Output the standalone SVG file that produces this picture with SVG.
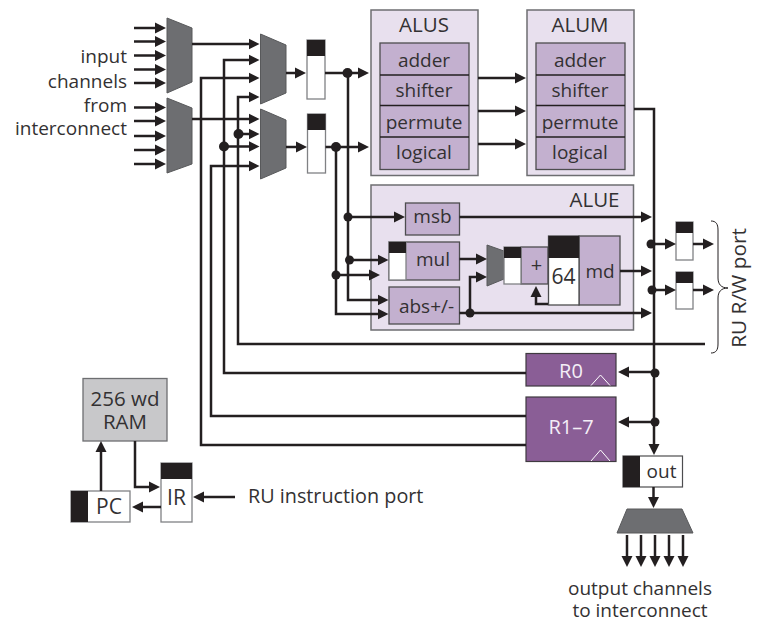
<svg xmlns="http://www.w3.org/2000/svg" width="759" height="622" viewBox="0 0 759 622">
<defs>
<marker id="ah" markerUnits="userSpaceOnUse" markerWidth="13" markerHeight="12" refX="7" refY="6" orient="auto"><path d="M0,0.5 L11,6 L0,11.5 Z" fill="#231f20"/></marker>
</defs>
<style>
text{font-family:"Open Sans","Noto Sans","Liberation Sans",sans-serif;font-size:19px;fill:#333132;text-anchor:middle}
.l{text-anchor:end}
.s{text-anchor:start;font-size:19.800px}
.h{font-size:20.500px}
.w{fill:#f4eef6;font-size:20px}
.mux{fill:#6d6e71;stroke:#58595b;stroke-width:1}
.alu{fill:#e8e0ee;stroke:#6d6e71;stroke-width:1.5}
.fu{fill:#c3b0cf;stroke:#4d4d4f;stroke-width:1.3}
.reg{fill:#fff;stroke:#808184;stroke-width:1.3}
.blk{fill:#231f20}
.pur{fill:#8a5e96;stroke:#3f3a40;stroke-width:1.2}
.clk{fill:none;stroke:#fff;stroke-width:1}
.c{fill:none;stroke:#231f20;stroke-width:2.5}
.a{marker-end:url(#ah)}
.d{fill:#231f20}
</style>
<g id="labels">
<text class="l"><tspan x="127" y="63">input</tspan><tspan x="127" y="88">channels</tspan><tspan x="127" y="112">from</tspan><tspan x="127" y="135">interconnect</tspan></text>
<text><tspan x="640" y="595">output channels</tspan><tspan x="640" y="617">to interconnect</tspan></text>
<text class="s" x="248" y="503">RU instruction port</text>
<text transform="translate(746,288) rotate(-90)" style="font-size:20.800px">RU R/W port</text>
</g>
<g id="mux-in-1"><polygon class="mux" points="167,18 192,28 192,82 167,93"/></g>
<g id="mux-in-2"><polygon class="mux" points="167,98 192,108 192,164 167,173"/></g>
<g id="mux-a"><polygon class="mux" points="260.500,34 286,45 286,93 260.500,104"/></g>
<g id="mux-b"><polygon class="mux" points="260.500,109 286,120 286,168 260.500,179"/></g>
<g id="reg-a"><rect class="reg" x="307" y="40" width="18" height="59"/><rect class="blk" x="307" y="40" width="18" height="16"/></g>
<g id="reg-b"><rect class="reg" x="307.500" y="114" width="18" height="59"/><rect class="blk" x="307.500" y="114" width="18" height="16"/></g>
<g id="alus">
<rect class="alu" x="371" y="10" width="107" height="165.500"/>
<rect class="fu" x="380" y="43" width="89" height="126.500"/>
<path d="M380,75H469M380,105.500H469M380,137H469" stroke="#231f20" stroke-width="1.300" fill="none"/>
<text class="h" x="424" y="32">ALUS</text><text x="424" y="67">adder</text><text x="424" y="97">shifter</text><text x="424" y="129">permute</text><text x="424" y="159">logical</text>
</g>
<g id="alum">
<rect class="alu" x="527" y="10" width="107" height="165.500"/>
<rect class="fu" x="536" y="43" width="89" height="126.500"/>
<path d="M536,75H625M536,105.500H625M536,137H625" stroke="#231f20" stroke-width="1.300" fill="none"/>
<text class="h" x="580" y="32">ALUM</text><text x="580" y="67">adder</text><text x="580" y="97">shifter</text><text x="580" y="129">permute</text><text x="580" y="159">logical</text>
</g>
<g id="alue"><rect class="alu" x="371" y="185" width="262.500" height="145"/><text class="h" x="594.500" y="206.500">ALUE</text></g>
<g id="msb"><rect class="fu" x="405.500" y="203" width="54" height="32"/><text x="432.500" y="223">msb</text></g>
<g id="mul"><rect class="fu" x="389" y="242" width="70.500" height="38"/><rect class="reg" x="389" y="242" width="17" height="38"/><rect class="blk" x="389" y="242" width="17" height="11"/><text x="433" y="266">mul</text></g>
<g id="abs"><rect class="fu" x="389" y="287" width="70.500" height="37"/><text x="426.500" y="313">abs+/-</text></g>
<g id="mux-e"><polygon class="mux" points="487,245 504,251 504,279 487,286"/></g>
<g id="adder"><rect class="fu" x="521" y="247" width="27" height="37"/><rect class="reg" x="504" y="247" width="17" height="37"/><rect class="blk" x="504" y="247" width="17" height="11"/><text x="536.500" y="272" style="font-size:20px">+</text></g>
<g id="md"><rect class="fu" x="579" y="236" width="41" height="69"/><rect class="reg" x="548.500" y="236" width="30.500" height="69" style="stroke:#4d4d4f"/><rect class="blk" x="548.500" y="236" width="30.500" height="22"/><text x="563.500" y="284" style="font-size:21px">64</text><text x="600" y="278">md</text></g>
<g id="reg-c"><rect class="reg" x="676" y="222" width="17" height="38"/><rect class="blk" x="676" y="222" width="17" height="11"/></g>
<g id="reg-d"><rect class="reg" x="676" y="272" width="17" height="37"/><rect class="blk" x="676" y="272" width="17" height="11"/></g>
<g id="r0"><rect class="pur" x="526" y="353.500" width="90" height="32.500"/><polyline class="clk" points="591,385.500 600.500,375 610,385.500"/><text class="w" x="571" y="378">R0</text></g>
<g id="r1-7"><rect class="pur" x="526" y="397" width="90" height="64.500"/><polyline class="clk" points="591,461 600.500,450 610,461"/><text class="w" x="571" y="434">R1–7</text></g>
<g id="out"><rect x="623" y="456" width="59.500" height="31" fill="#fff" stroke="#4d4d4f" stroke-width="1.200"/><rect class="blk" x="623" y="456" width="17" height="31"/><text x="661.500" y="478">out</text></g>
<g id="mux-out"><polygon class="mux" points="627,509 682,509 693,533 617,533"/></g>
<g id="ram"><rect x="83" y="378.500" width="84" height="62.500" fill="#c8c8ca" stroke="#6d6e71" stroke-width="1.300"/><text style="font-size:20.500px"><tspan x="125" y="406">256 wd</tspan><tspan x="125" y="429">RAM</tspan></text></g>
<g id="pc"><rect class="reg" x="71" y="491" width="59" height="31"/><rect class="blk" x="71" y="491" width="17" height="31"/><text x="109" y="514" style="font-size:21px">PC</text></g>
<g id="ir"><rect class="reg" x="161" y="463" width="31" height="59"/><rect class="blk" x="161" y="463" width="31" height="16"/><text x="176.500" y="505" style="font-size:21px">IR</text></g>
<g id="connectors">
<path class="c a" d="M134,28H162"/><path class="c a" d="M134,41.500H162"/><path class="c a" d="M134,55.500H162"/><path class="c a" d="M134,69.500H162"/><path class="c a" d="M134,83H162"/>
<path class="c a" d="M134,107.500H162"/><path class="c a" d="M134,121H162"/><path class="c a" d="M134,136H162"/><path class="c a" d="M134,150H162"/><path class="c a" d="M134,164H162"/>
<path class="c a" d="M192,44H255.500"/>
<path class="c a" d="M192,119H255.500"/>
<path class="c a" d="M526,445H201V78H255.500"/>
<path class="c a" d="M526,416H211V166H255.500"/>
<path class="c a" d="M526,373H224V60H255.500"/>
<path class="c a" d="M705,344H238V97H255.500"/>
<path class="c a" d="M238,134H255.500"/><path class="c a" d="M224,146.500H255.500"/>
<circle class="d" cx="238.500" cy="134" r="5"/><circle class="d" cx="224" cy="146.500" r="5"/>
<path class="c a" d="M286,73H302"/><path class="c a" d="M286,147H303"/>
<path class="c a" d="M325,73H365"/><path class="c a" d="M325.500,147H365"/>
<circle class="d" cx="347.500" cy="73" r="5"/><circle class="d" cx="336" cy="147" r="5"/>
<path class="c a" d="M348,73V300H384.500"/>
<path class="c a" d="M336,147V314H384.500"/>
<circle class="d" cx="348" cy="217" r="4.500"/><circle class="d" cx="349.500" cy="260" r="4.500"/><circle class="d" cx="336" cy="275" r="4.500"/>
<path class="c a" d="M348,217H401"/><path class="c a" d="M348,260H384.500"/><path class="c a" d="M336,275H376"/>
<path class="c a" d="M478,78H522"/><path class="c a" d="M478,111H522"/><path class="c a" d="M478,144H522"/>
<path class="c a" d="M634,109H654V451"/>
<path class="c a" d="M459.500,217H648"/>
<path class="c a" d="M459.500,259H483"/>
<path class="c a" d="M459.500,313H648"/>
<path class="c a" d="M470,313V277H483"/>
<circle class="d" cx="470" cy="313" r="4.500"/>
<path class="c a" d="M548,304H536V290"/>
<path class="c a" d="M620,271H648"/>
<circle class="d" cx="651" cy="244" r="4.500"/><circle class="d" cx="652" cy="290" r="4.500"/>
<path class="c a" d="M652,244H672"/><path class="c a" d="M652,290H672"/>
<path class="c a" d="M693,244H710"/><path class="c a" d="M693,290H710"/>
<path d="M711,221C716,221 718,224 718,230V278C718,284 721,288 728,288C721,288 718,292 718,298V344C718,350 716,353 711,353" fill="none" stroke="#231f20" stroke-width="1"/>
<circle class="d" cx="655" cy="373" r="4.500"/><circle class="d" cx="655" cy="422" r="4.500"/>
<path class="c a" d="M654,372H622"/><path class="c a" d="M654,422H622"/>
<path class="c a" d="M653.500,487V504"/>
<path class="c a" d="M627,535V563"/><path class="c a" d="M641,535V563"/><path class="c a" d="M655,535V563"/><path class="c a" d="M669,535V563"/><path class="c a" d="M683,535V563"/>
<path class="c a" d="M101,491V445"/>
<path class="c a" d="M135,441V487H156"/>
<path class="c a" d="M161,507H136"/>
<path class="c a" d="M235,497H197"/>
</g>
</svg>
